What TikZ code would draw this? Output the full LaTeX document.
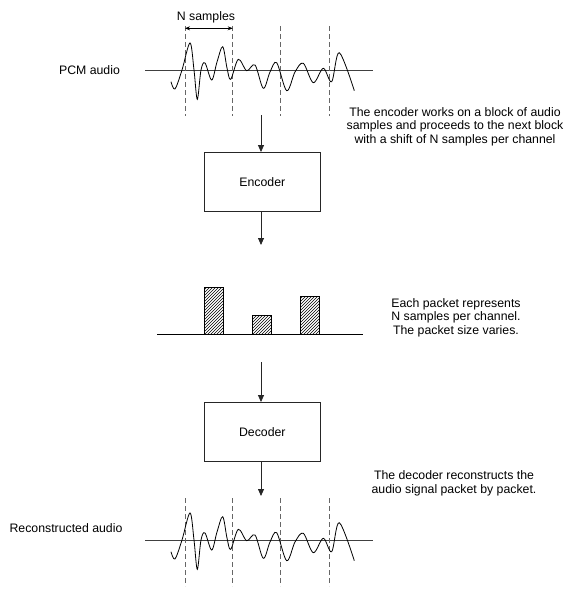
\documentclass[tikz,border=0pt]{standalone}
\usepackage{fontspec}
\setmainfont{Liberation Sans}
\usetikzlibrary{arrows.meta,patterns}
\begin{document}
\begin{tikzpicture}[x=1pt,y=-1pt,
  txt/.style={font=\fontsize{12.3}{13.4}\selectfont, align=center, inner sep=0pt},
  blockbox/.style={draw=black!85, line width=0.8pt, minimum width=116.5pt, minimum height=58.5pt, inner sep=0pt, font=\fontsize{12.3}{14}\selectfont},
  axisline/.style={draw=black!75, line width=0.9pt},
  dashline/.style={draw=black!60, line width=0.9pt, dash pattern=on 5pt off 3pt},
  wave/.style={draw=black, line width=0.8pt},
  flow/.style={draw=black!85, line width=0.8pt, -{Triangle[length=7pt,width=6pt]}},
  packet/.style={draw, line width=0.7pt, pattern=north east lines}
]
\useasboundingbox (0,0) rectangle (574,602);

% ---------- top PCM audio ----------
\node[txt] (pcm) at (89.5,70) {PCM audio};
\draw[axisline] (145,70.7) -- (373,70.7);
\foreach \xx/\nm in {185/d1,232.7/d2,280.7/d3,329.3/d4}{
  \coordinate (t\nm) at (\xx,26);
  \coordinate (b\nm) at (\xx,116);
  \draw[dashline] (t\nm) -- (b\nm);
}
\node[txt] (ns) at (206,17) {N samples};
\coordinate (nsa) at (185,28.3);
\coordinate (nsb) at (232.7,28.3);
\draw[line width=0.7pt, {Stealth[length=5pt,width=4pt]}-{Stealth[length=5pt,width=4pt]}] (nsa) -- (nsb);

\newcommand{\wavepts}{(171,81.7) (175,89) (182,70) (190,43) (194,70) (197.3,99.3) (201,70) (205,63) (211.7,80) (217,62) (222.7,46.7) (227,68) (230.7,79.3) (238.3,59.3) (246.7,70.7) (255,65) (263.3,88.3) (270,72) (276.7,62.7) (286.7,90.7) (295,72) (303.3,63.3) (313.3,82.7) (323.3,68.3) (331.7,81.7) (339.3,52.7) (354.3,90.7)}
\draw[wave] plot[smooth, tension=0.55] coordinates {\wavepts};

\node[txt] (enctxt) at (455,126.5) {The encoder works on a block of audio\\samples and proceeds to the next block\\with a shift of N samples per channel};

% ---------- encoder ----------
\node[blockbox] (enc) at (262.3,181.7) {Encoder};
\coordinate (a1) at (261,115);
\draw[flow] (a1) -- (enc.north -| a1);
\coordinate (a2) at (261,245);
\draw[flow] (enc.south -| a2) -- (a2);

% ---------- packets ----------
\coordinate (pa) at (157,334.5);
\coordinate (pb) at (363,334.5);
\draw[line width=0.8pt] (pa) -- (pb);
\draw[packet] (204.3,334.5) rectangle (223.3,287.3);
\draw[packet] (252,334.5) rectangle (271.7,315.7);
\draw[packet] (300,334.5) rectangle (319.3,296.7);
\node[txt] (pkttxt) at (456,317.5) {Each packet represents\\N samples per channel.\\The packet size varies.};

% ---------- decoder ----------
\coordinate (a3) at (261,362);
\node[blockbox] (dec) at (262.3,431.7) {Decoder};
\draw[flow] (a3) -- (dec.north -| a3);
\coordinate (a4) at (261,496);
\draw[flow] (dec.south -| a4) -- (a4);
\node[txt] (dectxt) at (454,483.5) {The decoder reconstructs the\\audio signal packet by packet.};

% ---------- reconstructed ----------
\node[txt] (rec) at (66,528) {Reconstructed audio};
\begin{scope}[yshift=-470pt]
\draw[axisline] (145,70.7) -- (373,70.7);
\foreach \xx/\nm in {185/e1,232.7/e2,280.7/e3,329.3/e4}{
  \coordinate (t\nm) at (\xx,28);
  \coordinate (b\nm) at (\xx,116);
  \draw[dashline] (t\nm) -- (b\nm);
}
\draw[wave] plot[smooth, tension=0.55] coordinates {\wavepts};
\end{scope}
\end{tikzpicture}
\end{document}
